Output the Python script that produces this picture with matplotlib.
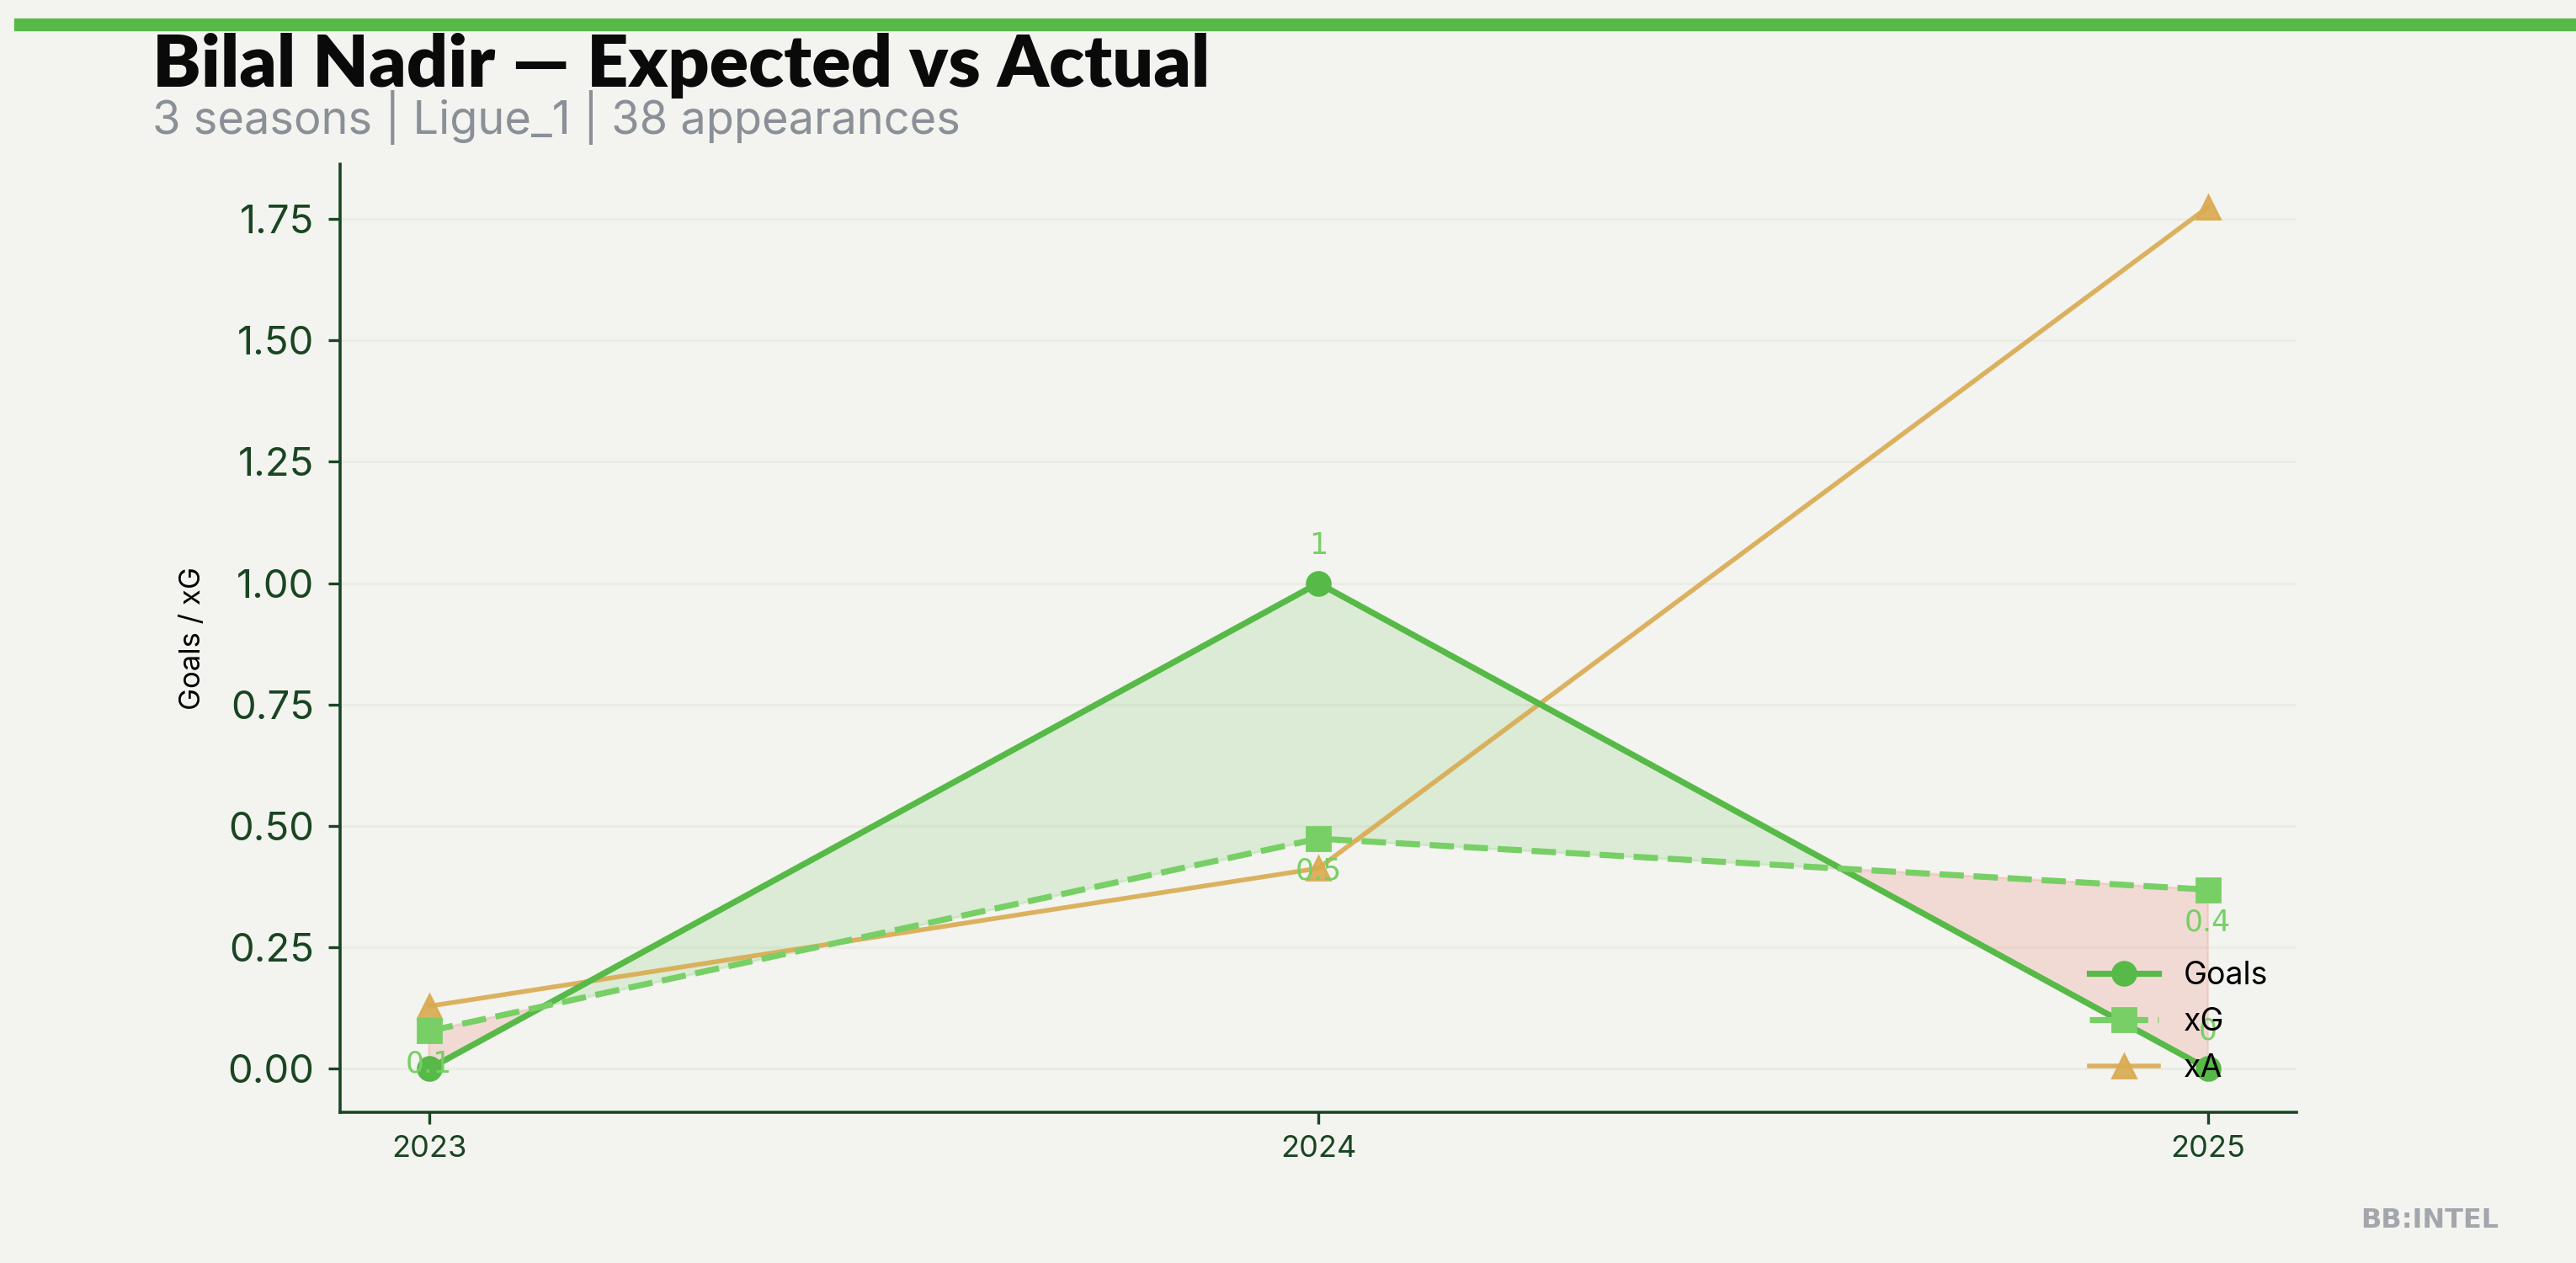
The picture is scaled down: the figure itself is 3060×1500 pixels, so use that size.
import numpy as np
import matplotlib.pyplot as plt

plt.rcParams['font.family'] = ['Inter', 'DejaVu Sans']

# data
seasons = [2023, 2024, 2025]
goals = [0, 1, 0]
xg = [0.078, 0.474, 0.369]
xa = [0.129, 0.413, 1.774]

player = "Bilal Nadir"
league = "Ligue_1"
apps = 38

bg = '#f3f4ef'
c_goals = '#57b947'
c_xg = '#77cf66'
c_xa = '#d9aa4f'
dark = '#1a4523'

fig = plt.figure(figsize=(15.3, 7.5), dpi=200, facecolor=bg)
ax = fig.add_axes([0.132, 0.1196, 0.7596, 0.7504])
ax.set_facecolor(bg)

yrs = np.array(seasons)
g = np.array(goals, dtype=float)
x = np.array(xg)

# over/under performance shading
ax.fill_between(yrs, g, x, where=g >= x, interpolate=True, color=c_goals, alpha=0.15, zorder=1)
ax.fill_between(yrs, g, x, where=g < x, interpolate=True, color='#ec8f86', alpha=0.25, zorder=1)

ax.plot(yrs, g, color=c_goals, lw=2.6, marker='o', ms=10, label='Goals', zorder=3)
ax.plot(yrs, x, color=c_xg, lw=2.6, ls='--', dashes=(4, 1.6), marker='s', ms=10, label='xG', zorder=3)
ax.plot(yrs, xa, color=c_xa, lw=2.0, marker='^', ms=10, alpha=0.9, label='xA', zorder=2)

for yr, v in zip(seasons, goals):
    ax.annotate(f"{v:g}", (yr, v), xytext=(0, 16), textcoords='offset points', family='DejaVu Sans',
                ha='center', va='center', color=c_xg, fontsize=12.5)
for yr, v in zip(seasons, xg):
    ax.annotate(f"{v:.1f}", (yr, v), xytext=(0, -14), textcoords='offset points', family='DejaVu Sans',
                ha='center', va='center', color=c_xg, fontsize=12.5)

ax.set_xticks(seasons)
ax.set_xticklabels([str(s) for s in seasons], fontsize=13, color=dark)
ax.tick_params(axis='y', labelsize=17, labelcolor=dark, color=dark, length=5, width=1.2, pad=6)
ax.tick_params(axis='x', color=dark, length=5, width=1.2, pad=5)
ax.yaxis.grid(True, color='#eaece4', lw=1)
ax.set_axisbelow(True)
for s in ['top', 'right']:
    ax.spines[s].set_visible(False)
for s in ['left', 'bottom']:
    ax.spines[s].set_color(dark)
    ax.spines[s].set_linewidth(1.3)
ax.set_ylabel('Goals / xG', fontsize=12.5, color='black', labelpad=9)

leg = ax.legend(loc='lower right', frameon=False, fontsize=13.5, handlelength=2.2)

# header
fig.add_artist(plt.Line2D([0.008, 1.0], [0.981, 0.981], color=c_goals, lw=5.5))
fig.text(0.059, 0.948, f"{player} \u2014 Expected vs Actual", fontsize=31, fontweight='heavy',
         family='Lato', color='#0a0a0a', va='center')
fig.text(0.059, 0.907, f"{len(seasons)} seasons | {league} | {apps} appearances", fontsize=19.5,
         family='Inter', color='#8a8f98', va='center')
fig.text(0.97, 0.034, "BB:INTEL", fontsize=11.5, fontweight='bold', color='#a3a6ac',
         family='DejaVu Sans', ha='right', va='center')

fig.savefig('out.png', dpi=200, facecolor=bg)
